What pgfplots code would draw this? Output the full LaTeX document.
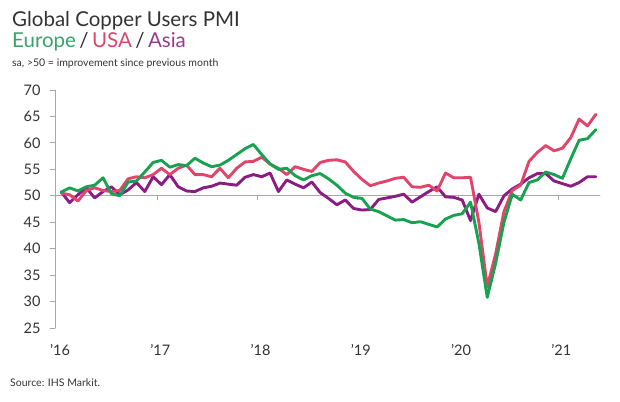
\documentclass[border=0pt]{standalone}
\usepackage{pgfplots}
\pgfplotsset{compat=1.18}
\usepackage{fontspec}
\setmainfont{Lato}
\definecolor{eugreen}{HTML}{17A150}
\definecolor{usred}{HTML}{E2456B}
\definecolor{aspurple}{HTML}{8A1C84}
\definecolor{eutext}{HTML}{3AA36B}
\definecolor{ustext}{HTML}{D9476E}
\definecolor{astext}{HTML}{993A8E}
\definecolor{txt}{HTML}{333333}
\definecolor{axgray}{HTML}{A8A8A8}

% month index m (0 = Jan 2016), plotted at m+0.5
\pgfplotstableread{
t eu us as
0.5 50.7 50.5 50.7
1.5 51.5 50.2 48.7
2.5 50.9 49.0 50.2
3.5 51.7 51.0 51.5
4.5 52.0 51.5 49.6
5.5 53.4 51.0 50.8
6.5 50.4 50.8 51.7
7.5 50.0 51.0 50.2
8.5 52.6 53.2 51.1
9.5 52.8 53.6 52.5
10.5 54.5 53.4 50.8
11.5 56.3 54.0 53.6
12.5 56.7 55.2 52.1
13.5 55.4 54.0 54.0
14.5 55.9 55.2 51.7
15.5 55.7 55.8 50.9
16.5 57.1 54.0 50.8
17.5 56.2 54.0 51.5
18.5 55.5 53.6 51.8
19.5 55.8 55.2 52.4
20.5 56.7 53.4 52.2
21.5 57.8 55.2 52.0
22.5 58.9 56.4 53.5
23.5 59.7 56.5 54.0
24.5 57.8 57.3 53.6
25.5 56.0 56.0 54.3
26.5 55.0 55.2 50.8
27.5 55.2 54.0 53.0
28.5 53.8 55.5 52.2
29.5 53.0 55.0 51.5
30.5 53.8 54.6 52.6
31.5 54.2 56.3 50.6
32.5 53.2 56.7 49.5
33.5 52.0 56.8 48.3
34.5 50.5 56.4 49.2
35.5 49.7 54.6 47.6
36.5 49.5 53.1 47.3
37.5 47.5 51.9 47.4
38.5 47.0 52.4 49.3
39.5 46.2 52.8 49.6
40.5 45.4 53.3 49.9
41.5 45.5 53.5 50.3
42.5 44.9 51.7 48.8
43.5 45.1 51.6 49.8
44.5 44.6 52.0 50.8
45.5 44.1 50.9 51.7
46.5 45.6 54.3 49.8
47.5 46.3 53.4 49.7
48.5 46.6 53.4 49.2
49.5 48.8 53.5 45.3
50.5 41.0 45.0 50.3
51.5 30.8 32.8 47.7
52.5 37.2 39.0 47.0
53.5 45.0 47.0 50.0
54.5 50.3 51.0 51.3
55.5 49.2 52.0 52.2
56.5 52.5 56.5 53.4
57.5 53.0 58.2 54.2
58.5 54.5 59.5 54.2
59.5 54.0 58.5 52.8
60.5 53.3 59.0 52.3
61.5 57.0 61.0 51.8
62.5 60.5 64.5 52.5
63.5 60.8 63.2 53.6
64.5 62.5 65.4 53.6
}\pmidata

\begin{document}
\begin{tikzpicture}[x=1pt,y=1pt]
\useasboundingbox (0,0) rectangle (620,401);
\node[anchor=base west, inner sep=0, text=txt, font=\fontsize{20.5}{24}\selectfont] at (12,374) {Global Copper Users PMI};
\node[anchor=base west, inner sep=0, font=\fontsize{20.5}{24}\selectfont] at (12,353) {\textcolor{eutext}{Europe}\,\textcolor{txt}{/}\,\textcolor{ustext}{USA}\,\textcolor{txt}{/}\,\textcolor{astext}{Asia}};
\node[anchor=base west, inner sep=0, text=txt, font=\fontsize{10.5}{12}\selectfont] at (12,334) {sa, >50 = improvement since previous month};
\node[anchor=base west, inner sep=0, text=txt, font=\fontsize{10.5}{12}\selectfont] at (10,15) {Source: IHS Markit.};
\begin{axis}[
  at={(55pt,73pt)}, anchor=south west,
  scale only axis, width=545pt, height=238pt,
  xmin=-0.25, xmax=65, ymin=25, ymax=70,
  axis lines*=left,
  x axis line style={draw=none},
  y axis line style={draw=axgray, line width=0.8pt},
  xtick={0,12,24,36,48,60},
  xticklabels={{'16},{'17},{'18},{'19},{'20},{'21}},
  ytick={25,30,...,70},
  xtick style={draw=none},
  ytick style={draw=axgray, line width=0.8pt},
  tick align=outside,
  major tick length=5pt,
  /pgf/number format/assume math mode=true,
  tick label style={font=\fontsize{14.5}{16}\selectfont, text=txt},
  yticklabel style={xshift=-6pt},
  xticklabel style={yshift=-8pt, xshift=3pt},
  clip=false,
  line join=round, line cap=round,
]
\draw[axgray, line width=0.8pt] (axis cs:-0.25,50) -- (axis cs:65,50);
\pgfplotsinvokeforeach{12,24,36,48,60}{
  \draw[axgray, line width=0.8pt] (axis cs:#1,50) -- ++(0pt,-4pt);
}
\addplot[aspurple, line width=2.9pt, no markers] table[x=t, y=as] {\pmidata};
\addplot[usred, line width=2.9pt, no markers] table[x=t, y=us] {\pmidata};
\addplot[eugreen, line width=2.9pt, no markers] table[x=t, y=eu] {\pmidata};
\end{axis}
\end{tikzpicture}
\end{document}
